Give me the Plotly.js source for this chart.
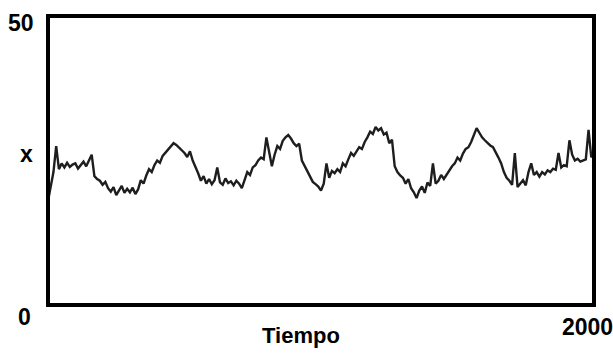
<!DOCTYPE html>
<html>
<head>
<meta charset="utf-8">
<script src="https://cdn.plot.ly/plotly-3.0.1.min.js"></script>
<style>html,body{margin:0;padding:0;background:#fff;}#chart{width:613px;height:354px;}</style>
</head>
<body>
<div id="chart"></div>
<script>
// time step between samples
const tStep = 10;
// series values x(t), t = 0,10,...,2000
const xValues = [
  18.0, 20.5, 23.0, 27.5, 23.5, 24.5, 23.8, 24.6, 23.9, 24.3,
  24.5, 23.6, 24.2, 24.8, 24.0, 24.9, 26.0, 22.3, 21.8, 21.5,
  20.8, 21.3, 20.2, 19.6, 20.4, 19.0, 19.8, 20.6, 19.4, 20.1,
  19.5, 20.3, 19.2, 20.0, 21.6, 21.0, 22.4, 23.5, 23.0, 24.2,
  25.0, 24.6, 25.8, 26.4, 27.0, 27.6, 28.0, 27.7, 27.2, 26.8,
  26.3, 25.6, 26.6, 25.0, 24.0, 22.8, 21.5, 22.3, 21.0, 21.8,
  20.9, 21.6, 23.8, 21.2, 20.8, 21.9, 21.1, 21.4, 20.7, 21.5,
  21.0, 20.2, 21.6, 23.0, 22.5, 23.8, 24.2, 25.0, 25.5, 25.2,
  29.0, 26.5, 24.0, 26.0, 27.5, 27.0, 28.4, 29.0, 29.4, 28.8,
  28.0, 27.5, 27.9, 25.0, 24.0, 23.2, 22.0, 21.3, 20.9, 20.5,
  19.8, 21.0, 24.5, 22.0, 23.2, 22.8, 23.5, 23.0, 24.5, 24.0,
  25.2, 26.3, 25.8, 26.5, 27.3, 27.0, 28.2, 29.0, 30.0, 29.6,
  30.8, 30.2, 30.6, 29.5, 29.8, 28.0, 28.6, 24.0, 23.0, 22.4,
  22.0, 21.0, 21.8, 20.2, 19.5, 18.5, 19.8, 20.5, 19.4, 21.2,
  20.6, 24.5, 21.0, 21.5, 22.5, 21.8, 22.6, 23.4, 24.0, 24.5,
  25.5, 25.0, 26.2, 27.0, 27.3, 28.2, 29.5, 30.6, 29.8, 29.0,
  28.5, 28.0, 27.6, 27.3, 26.5, 25.5, 24.5, 23.0, 22.0, 21.5,
  20.8, 26.3, 20.4, 21.0, 21.6, 20.7, 23.0, 24.5, 22.5, 23.0,
  22.2, 23.0, 22.6, 23.3, 23.0, 23.6, 23.4, 26.3, 23.8, 24.2,
  24.0, 28.5, 26.0, 25.0, 25.3, 24.8, 25.0, 25.2, 30.3, 25.6,
  26.0
];
const timeValues = xValues.map((_, i) => i * tStep);

// axis limits and labels
const xRange = [0, 2000];
const yRange = [0, 50];
const xTickLabel = "2000";
const yTopLabel = "50";
const originLabel = "0";
const xTitle = "Tiempo";
const yTitle = "x";

const labelFont = {family: "Liberation Sans, Arial, sans-serif", size: 23, color: "#000", weight: 700};

const data = [{
  type: "scatter",
  mode: "lines",
  x: timeValues,
  y: xValues,
  line: {color: "#1e1e1e", width: 2.4},
  hoverinfo: "skip"
}];

const layout = {
  width: 613,
  height: 354,
  margin: {l: 48, r: 19, t: 16, b: 49},
  paper_bgcolor: "#fff",
  plot_bgcolor: "#fff",
  showlegend: false,
  xaxis: {range: xRange, showgrid: false, zeroline: false, showticklabels: false, ticks: "", showline: false, fixedrange: true},
  yaxis: {range: yRange, showgrid: false, zeroline: false, showticklabels: false, ticks: "", showline: false, fixedrange: true},
  shapes: [{
    type: "rect", xref: "paper", yref: "paper", x0: 0, x1: 1, y0: 0, y1: 1,
    line: {color: "#000", width: 4}, layer: "above"
  }],
  annotations: [
    {x: xRange[0], y: yRange[1], xref: "x", yref: "y", text: yTopLabel, showarrow: false,
     xanchor: "right", yanchor: "middle", xshift: -12, yshift: -7, font: labelFont},
    {x: xRange[0], y: (yRange[0] + yRange[1]) / 2, xref: "x", yref: "y", text: yTitle, showarrow: false,
     xanchor: "right", yanchor: "middle", xshift: -13, yshift: 7, font: labelFont},
    {x: xRange[0], y: yRange[0], xref: "x", yref: "y", text: originLabel, showarrow: false,
     xanchor: "right", yanchor: "middle", xshift: -15, yshift: -12, font: labelFont},
    {x: xRange[1], y: yRange[0], xref: "x", yref: "y", text: xTickLabel, showarrow: false,
     xanchor: "center", yanchor: "middle", xshift: -7, yshift: -22, font: labelFont},
    {x: (xRange[0] + xRange[1]) / 2, y: yRange[0], xref: "x", yref: "y", text: xTitle, showarrow: false,
     xanchor: "center", yanchor: "middle", xshift: -20, yshift: -30, font: Object.assign({}, labelFont, {size: 22})}
  ]
};

Plotly.newPlot("chart", data, layout, {displayModeBar: false, staticPlot: true});
</script>
</body>
</html>
